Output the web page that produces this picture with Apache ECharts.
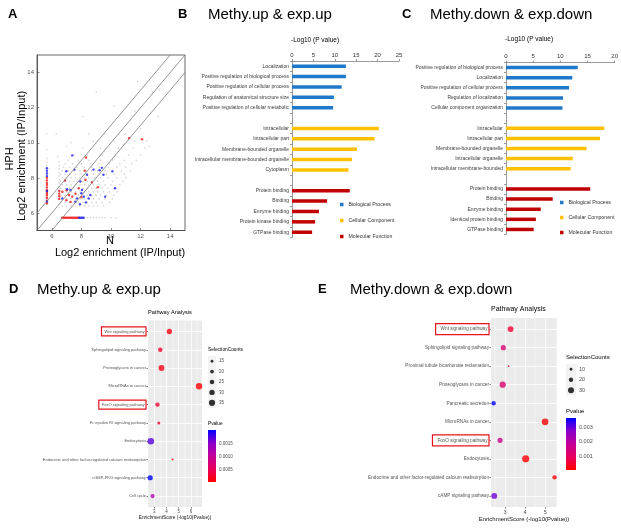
<!DOCTYPE html>
<html><head><meta charset="utf-8">
<script src="https://cdn.jsdelivr.net/npm/echarts@6/dist/echarts.min.js"></script>
<style>html,body{margin:0;padding:0;background:#fff}#c{width:621px;height:532px}</style>
</head><body><div id="c"></div>
<script>
const FONT = '"Liberation Sans", Arial, Helvetica, sans-serif';

// ---------- Panel A data (log2 enrichment scatter) ----------
const aTicks = [6, 8, 10, 12, 14];
const diagUpper = [[5, 6], [14, 15]];
const diagMiddle = [[5, 5], [15, 15]];
const diagLower = [[6, 5], [15, 14]];
const greyPts = [
  [5.67,10.5],[5.67,9.6],[5.67,9.1],[5.67,8.9],[5.67,8.7],[5.67,8.5],[5.67,8.3],[5.67,8.1],[5.67,7.9],[5.67,7.7],[5.67,7.5],[5.67,7.3],[5.67,7.1],[5.67,6.9],[5.67,6.7],[5.67,6.5],
  [6.5,8.9],[6.5,8.7],[6.5,8.5],[6.5,8.3],[6.5,8.1],[6.5,7.9],[6.5,7.7],[6.5,7.5],[6.5,6.5],[6.5,6.3],
  [8.2,5.73],[8.4,5.73],[8.6,5.73],[8.8,5.73],[9.0,5.73],[9.2,5.73],[9.4,5.73],[9.6,5.73],[10.0,5.73],[10.3,5.73],
  [6.7,6.4],[7.0,6.4],[7.3,6.4],[7.6,6.4],[7.9,6.4],[8.2,6.4],[8.5,6.4],[8.8,6.4],[9.1,6.4],[9.5,6.4],
  [6.6,6.6],[6.9,6.6],[7.2,6.6],[7.5,6.6],[7.8,6.6],[8.1,6.6],[8.4,6.6],[8.7,6.6],[9.0,6.6],[9.4,6.6],[9.9,6.6],
  [6.7,6.8],[7.0,6.8],[7.3,6.8],[7.6,6.8],[7.9,6.8],[8.2,6.8],[8.5,6.8],[8.8,6.8],[9.2,6.8],[9.6,6.8],[10.1,6.8],
  [6.6,7.0],[6.9,7.0],[7.2,7.0],[7.5,7.0],[7.8,7.0],[8.1,7.0],[8.4,7.0],[8.7,7.0],[9.0,7.0],[9.3,7.0],[9.7,7.0],[10.2,7.0],
  [6.7,7.2],[7.0,7.2],[7.3,7.2],[7.6,7.2],[7.9,7.2],[8.2,7.2],[8.5,7.2],[8.8,7.2],[9.1,7.2],[9.5,7.2],[9.9,7.2],[10.4,7.2],
  [6.6,7.4],[6.9,7.4],[7.2,7.4],[7.5,7.4],[7.8,7.4],[8.1,7.4],[8.4,7.4],[8.7,7.4],[9.0,7.4],[9.4,7.4],[9.8,7.4],[10.3,7.4],
  [6.7,7.6],[7.0,7.6],[7.3,7.6],[7.6,7.6],[7.9,7.6],[8.2,7.6],[8.5,7.6],[8.8,7.6],[9.2,7.6],[9.6,7.6],[10.0,7.6],[10.6,7.6],
  [6.6,7.8],[6.9,7.8],[7.2,7.8],[7.5,7.8],[7.8,7.8],[8.1,7.8],[8.4,7.8],[8.7,7.8],[9.1,7.8],[9.5,7.8],[10.1,7.8],[10.8,7.8],
  [6.7,8.0],[7.0,8.0],[7.3,8.0],[7.6,8.0],[7.9,8.0],[8.2,8.0],[8.5,8.0],[8.9,8.0],[9.3,8.0],[9.8,8.0],[10.4,8.0],[11.0,8.0],
  [6.6,8.2],[6.9,8.2],[7.2,8.2],[7.6,8.2],[8.0,8.2],[8.4,8.2],[8.8,8.2],[9.2,8.2],[9.7,8.2],[10.2,8.2],[10.9,8.2],
  [6.7,8.4],[7.1,8.4],[7.5,8.4],[7.9,8.4],[8.3,8.4],[8.7,8.4],[9.1,8.4],[9.6,8.4],[10.1,8.4],[10.7,8.4],[11.3,8.4],
  [6.8,8.6],[7.2,8.6],[7.7,8.6],[8.2,8.6],[8.7,8.6],[9.2,8.6],[9.8,8.6],[10.4,8.6],[11.0,8.6],
  [6.9,8.8],[7.4,8.8],[8.0,8.8],[8.6,8.8],[9.2,8.8],[9.9,8.8],[10.6,8.8],[11.4,8.8],
  [7.1,9.0],[7.8,9.0],[8.5,9.0],[9.3,9.0],[10.1,9.0],[10.9,9.0],[11.7,9.0],
  [7.5,9.3],[8.4,9.3],[9.4,9.3],[10.3,9.3],[11.2,9.3],[12.0,9.3],
  [8.1,9.7],[9.3,9.7],[10.5,9.7],[11.5,9.7],[12.3,9.7],
  [8.8,10.1],[10.2,10.1],[11.6,10.1],[12.4,10.1],
  [6.3,10.5],[9.6,10.5],[11.0,10.5],
  [8.1,11.5],[10.2,12.1],[11.6,11.8],[12.8,12.9],[13.3,13.0],[7.3,10.0],[12.0,10.8],[12.6,9.8],[13.2,11.5],[9.0,12.9],[11.8,13.5],[7.0,9.8],[10.8,9.9],[6.4,9.2],[8.5,10.5]
];
const redPts = [
  [5.67,6.55],[5.67,6.7],[5.67,6.85],[5.67,7.0],[5.67,7.1],[5.67,7.2],[5.67,7.3],[5.67,7.45],[5.67,7.6],[5.67,7.7],[5.67,7.85],[5.67,8.0],
  [6.7,5.73],[6.8,5.73],[6.9,5.73],[7.0,5.73],[7.1,5.73],[7.2,5.73],[7.3,5.73],[7.4,5.73],[7.5,5.73],[7.6,5.73],[7.7,5.73],[7.8,5.73],
  [6.5,6.8],[6.5,6.95],[6.5,7.1],[6.5,7.25],
  [6.89,7.85],[7.16,7.02],[7.38,6.93],[6.71,7.21],[6.98,6.73],[7.27,6.63],[7.82,7.41],[8.27,7.89],[8.22,8.41],[8.71,7.74],[9.11,7.47],[11.22,10.26],[8.31,9.16],[12.1,10.2],[7.0,7.3],[7.6,7.1],[8.0,6.9]
];
const bluePts = [
  [5.67,8.55],[5.67,8.4],[5.67,8.25],[5.67,8.1],[5.67,7.25],[5.67,6.65],
  [7.85,5.73],[7.95,5.73],[8.05,5.73],[8.15,5.73],
  [7.38,9.28],[6.98,8.38],[7.53,8.47],[7.04,7.35],[7.93,7.79],[8.04,7.31],[8.16,6.93],[7.71,6.83],[7.6,6.64],[8.38,8.18],[8.82,8.47],[9.38,8.57],[9.49,8.18],[10.09,8.37],[10.27,7.41],[9.6,6.93],[8.49,6.83],[8.6,7.02],[7.27,7.31],[6.71,6.83],[7.9,6.5],[8.3,6.6],[8.0,7.12],[9.23,8.43]
];

// ---------- Panel B data ----------
const bBpTerms = ['Localization','Positive regulation of biological process','Positive regulation of cellular process','Regulation of anatomical structure size','Positive regulation of cellular metabolic'];
const bBpVals = [12.6, 12.6, 11.6, 9.8, 9.6];
const bCcTerms = ['Intracellular','Intracellular part','Membrane-bounded organelle','Intracellular membrane-bounded organelle','Cytoplasm'];
const bCcVals = [20.3, 19.3, 15.2, 14.0, 13.2];
const bMfTerms = ['Protein binding','Binding','Enzyme binding','Protein kinase binding','GTPase binding'];
const bMfVals = [13.5, 8.2, 6.3, 5.4, 4.7];
const bMax = 25;

// ---------- Panel C data ----------
const cBpTerms = ['Positive regulation of biological process','Localization','Positive regulation of cellular process','Regulation of localization','Cellular component organization'];
const cBpVals = [13.2, 12.2, 11.6, 10.5, 10.4];
const cCcTerms = ['Intracellular','Intracellular part','Membrane-bounded organelle','Intracellular organelle','Intracellular membrane-bounded'];
const cCcVals = [18.1, 17.3, 14.8, 12.3, 11.9];
const cMfTerms = ['Protein binding','Binding','Enzyme binding','Identical protein binding','GTPase binding'];
const cMfVals = [15.5, 8.6, 6.4, 5.5, 5.1];
const cMax = 20;
const goGroups = ['Biological Process','Cellular Component','Molecular Function'];

// ---------- Panel D data ----------
const dPathways = ['Wnt signaling pathway','Sphingolipid signaling pathway','Proteoglycans in cancer','MicroRNAs in cancer','FoxO signaling pathway','Fc epsilon RI signaling pathway','Endocytosis','Endocrine and other factor-regulated calcium reabsorption','cGMP-PKG signaling pathway','Cell cycle'];
const dScores = [4.24, 3.5, 3.6, 6.66, 3.27, 3.38, 2.73, 4.5, 2.68, 2.87];
const dCounts = [30, 25, 33, 36, 24, 16, 37, 11, 29, 23];
const dPvals = [0.00012, 0.00022, 0.00015, 0.00002, 0.00032, 0.00028, 0.0017, 0.00004, 0.00202, 0.00122];
const dXTicks = [3, 4, 5, 6];
const dXMinor = [2.5, 3.5, 4.5, 5.5, 6.5];
const dSizeBreaks = [15, 20, 25, 30, 35];
const dPTicks = [0.0005, 0.0010, 0.0015];

// ---------- Panel E data ----------
const ePathways = ['Wnt signaling pathway','Sphingolipid signaling pathway','Proximal tubule bicarbonate reclamation','Proteoglycans in cancer','Pancreatic secretion','MicroRNAs in cancer','FoxO signaling pathway','Endocytosis','Endocrine and other factor-regulated calcium reabsorption','cAMP signaling pathway'];
const eScores = [3.28, 2.92, 3.18, 2.89, 2.44, 4.99, 2.76, 4.03, 5.46, 2.47];
const eCounts = [30, 25, 3, 32, 20, 35, 25, 38, 20, 30];
const ePvals = [0.00065, 0.00135, 0.0003, 0.0013, 0.0036, 0.00015, 0.0017, 0.00013, 0.0002, 0.0029];
const eXTicks = [3, 4, 5];
const eXMinor = [2.5, 3.5, 4.5, 5.5];
const eSizeBreaks = [10, 20, 30];
const ePTicks = [0.001, 0.002, 0.003];

const boxedPathways = ['Wnt signaling pathway', 'FoxO signaling pathway'];

// ---------- styles ----------
const goColors = ['#1f78c8', '#ffc000', '#c00000'];
const pColors = ['#ff0000', '#e8005c', '#c40098', '#8a00cc', '#0000ff'];
const dSize = c => 0.17 * c + 0.3;
const eSize = c => 0.155 * c + 1.3;

function buildGo(bp, cc, mf) { return [...bp, ' ', ...cc, '  ', ...mf]; }
function groupData(vals, g) {
  const out = [];
  for (let k = 0; k < 3; k++) {
    vals[k].forEach(v => out.push(k === g ? v : '-'));
    if (k < 2) out.push('-');
  }
  return out;
}
const bCats = buildGo(bBpTerms, bCcTerms, bMfTerms);
const cCats = buildGo(cBpTerms, cCcTerms, cMfTerms);
const bVals = [bBpVals, bCcVals, bMfVals];
const cVals = [cBpVals, cCcVals, cMfVals];

const dPos = dPathways.map((_, i) => i + 1);
const ePos = ePathways.map((_, i) => i + 1);
const dPmin = Math.min(...dPvals), dPmax = Math.max(...dPvals);
const ePmin = Math.min(...ePvals), ePmax = Math.max(...ePvals);
const cbGradient = {
  type: 'linear', x: 0, y: 0, x2: 0, y2: 1,
  colorStops: pColors.slice().reverse().map((c, i, arr) => ({ offset: i / (arr.length - 1), color: c }))
};

function goXAxis(grid, max) {
  return {
    gridIndex: grid, type: 'value', position: 'top', min: 0, max: max, interval: 5,
    axisLine: { show: true, lineStyle: { color: '#808080', width: 0.8 } },
    axisTick: { show: true, length: 2, lineStyle: { color: '#808080', width: 0.8 } },
    axisLabel: { fontSize: 6, color: '#333', margin: 3, fontFamily: FONT },
    splitLine: { show: false }
  };
}
function goYAxis(grid, cats) {
  return {
    gridIndex: grid, type: 'category', data: cats, inverse: true,
    axisLine: { show: true, lineStyle: { color: '#808080', width: 0.8 } },
    axisTick: { show: true, length: 2, interval: 0, lineStyle: { color: '#808080', width: 0.8 } },
    axisLabel: { fontSize: 5, color: '#3a3a3a', margin: 3, interval: 0, fontFamily: FONT },
    splitLine: { show: false }
  };
}
function pathwayYAxis(grid, names, pos, fs, pad) {
  return {
    gridIndex: grid, type: 'value', min: 0.4, max: names.length + 0.6, inverse: true,
    axisLine: { show: false },
    axisTick: { show: true, customValues: pos, length: 1.5, lineStyle: { color: '#333', width: 0.6 } },
    axisLabel: {
      customValues: pos, fontSize: fs, color: '#555', margin: 2, fontFamily: FONT,
      formatter: v => { const t = names[Math.round(v) - 1]; return boxedPathways.includes(t) ? '{box|' + t + '}' : t; },
      rich: { box: { fontSize: fs, color: '#555', borderColor: '#e8141c', borderWidth: 1.2, padding: pad, fontFamily: FONT } }
    },
    splitLine: { show: true, lineStyle: { color: '#ffffff', width: 0.8 } }
  };
}
function pathwayXAxis(grid, min, max, ticks, fs, nameFs, gap) {
  return {
    gridIndex: grid, type: 'value', min: min, max: max,
    axisLine: { show: false },
    axisTick: { show: true, customValues: ticks, length: 1.5, lineStyle: { color: '#333', width: 0.6 } },
    axisLabel: { customValues: ticks, fontSize: fs, color: '#4d4d4d', margin: 2, fontFamily: FONT },
    splitLine: { show: true, lineStyle: { color: '#ffffff', width: 0.8 } },
    name: 'EnrichmentScore (-log10(Pvalue))', nameLocation: 'middle', nameGap: gap,
    nameTextStyle: { fontSize: nameFs, color: '#111', fontFamily: FONT }
  };
}
function minorXAxis(grid, min, max, ticks) {
  return {
    gridIndex: grid, type: 'value', min: min, max: max, position: 'top',
    axisLine: { show: false }, axisLabel: { show: false },
    axisTick: { show: false, customValues: ticks },
    splitLine: { show: true, lineStyle: { color: '#ffffff', width: 0.4 } }
  };
}
function hiddenCatX(grid) {
  return { gridIndex: grid, type: 'category', data: [''], show: false, boundaryGap: true };
}

function titleItem(text, left, top, size, bold, extra) {
  return Object.assign({ text: text, left: left, top: top, padding: 0, itemGap: 0,
    textStyle: { fontSize: size, fontWeight: bold ? 'bold' : 'normal', color: '#000', fontFamily: FONT } }, extra || {});
}

const option = {
  animation: false,
  backgroundColor: '#ffffff',
  textStyle: { fontFamily: FONT },
  title: [
    titleItem('A', 8, 8, 13, true),
    titleItem('B', 178, 8, 13, true),
    titleItem('Methy.up & exp.up', 208, 7, 15, false),
    titleItem('C', 402, 8, 13, true),
    titleItem('Methy.down & exp.down', 430, 7, 15, false),
    titleItem('-Log10 (P value)', 291, 37, 6.5, false),
    titleItem('-Log10 (P value)', 505, 36, 6.5, false),
    titleItem('D', 9, 283, 13, true),
    titleItem('Methy.up & exp.up', 37, 282, 15, false),
    titleItem('E', 318, 283, 13, true),
    titleItem('Methy.down & exp.down', 350, 282, 15, false),
    titleItem('Pathway Analysis', 148, 309, 5.6, false),
    titleItem('Pathway Analysis', 491, 306, 7, false),
    titleItem('SelectionCounts', 208, 347, 4.8, false),
    titleItem('Pvalue', 208, 421, 4.8, false),
    titleItem('SelectionCounts', 566, 354, 6, false),
    titleItem('Pvalue', 566, 408, 6, false)
  ],
  graphic: [
    { type: 'text', x: 10, y: 159, rotation: Math.PI / 2, style: { text: 'HPH', font: '11px ' + FONT, fill: '#000', textAlign: 'center', textVerticalAlign: 'middle' } },
    { type: 'text', x: 22, y: 156, rotation: Math.PI / 2, style: { text: 'Log2 enrichment (IP/Input)', font: '11px ' + FONT, fill: '#000', textAlign: 'center', textVerticalAlign: 'middle' } },
    { type: 'text', x: 110, y: 241, style: { text: 'N', font: '11px ' + FONT, fill: '#000', textAlign: 'center', textVerticalAlign: 'middle' } },
    { type: 'text', x: 120, y: 253, style: { text: 'Log2 enrichment (IP/Input)', font: '11px ' + FONT, fill: '#000', textAlign: 'center', textVerticalAlign: 'middle' } }
  ],
  legend: [
    { data: goGroups, orient: 'vertical', left: 340, top: 202, itemWidth: 3.5, itemHeight: 3.5, itemGap: 11, icon: 'rect', selectedMode: false, padding: 0,
      textStyle: { fontSize: 5.2, color: '#333', fontFamily: FONT } },
    { data: goGroups, orient: 'vertical', left: 560, top: 200, itemWidth: 3.5, itemHeight: 3.5, itemGap: 10, icon: 'rect', selectedMode: false, padding: 0,
      textStyle: { fontSize: 5.2, color: '#333', fontFamily: FONT } }
  ],
  visualMap: [
    { type: 'continuous', show: false, seriesIndex: 12, dimension: 3, min: dPmin, max: dPmax, inRange: { color: pColors } },
    { type: 'continuous', show: false, seriesIndex: 13, dimension: 3, min: ePmin, max: ePmax, inRange: { color: pColors } }
  ],
  grid: [
    { left: 37, top: 55, width: 148, height: 175.5, show: true, borderColor: '#444', borderWidth: 0.8, backgroundColor: '#fff' },
    { left: 292, top: 61, width: 107, height: 176.4 },
    { left: 506, top: 62.5, width: 110, height: 172 },
    { left: 148, top: 320.5, width: 54, height: 186.5, show: true, backgroundColor: '#ebebeb', borderWidth: 0 },
    { left: 491, top: 318, width: 66, height: 189, show: true, backgroundColor: '#ebebeb', borderWidth: 0 },
    { left: 208, top: 356, width: 8, height: 52, show: true, backgroundColor: '#f2f2f2', borderWidth: 0 },
    { left: 208, top: 430, width: 8, height: 52 },
    { left: 566, top: 364, width: 10, height: 31.5, show: true, backgroundColor: '#f2f2f2', borderWidth: 0 },
    { left: 566, top: 418, width: 10, height: 52 }
  ],
  xAxis: [
    { gridIndex: 0, type: 'value', min: 5, max: 15,
      axisLine: { show: true, lineStyle: { color: '#444', width: 0.8 } },
      axisTick: { show: true, inside: true, length: 2.5, customValues: aTicks, lineStyle: { color: '#444', width: 0.6 } },
      axisLabel: { customValues: aTicks, fontSize: 6, color: '#555', margin: 3, fontFamily: FONT },
      splitLine: { show: false } },
    goXAxis(1, bMax),
    goXAxis(2, cMax),
    pathwayXAxis(3, 2.5, 6.9, dXTicks, 4.5, 4.8, 7),
    minorXAxis(3, 2.5, 6.9, dXMinor),
    pathwayXAxis(4, 2.31, 5.58, eXTicks, 5.5, 6, 8),
    minorXAxis(4, 2.31, 5.58, eXMinor),
    hiddenCatX(5),
    hiddenCatX(6),
    hiddenCatX(7),
    hiddenCatX(8)
  ],
  yAxis: [
    { gridIndex: 0, type: 'value', min: 5, max: 15,
      axisLine: { show: true, lineStyle: { color: '#444', width: 0.8 } },
      axisTick: { show: true, inside: true, length: 2.5, customValues: aTicks, lineStyle: { color: '#444', width: 0.6 } },
      axisLabel: { customValues: aTicks, fontSize: 6, color: '#555', margin: 3, fontFamily: FONT },
      splitLine: { show: false } },
    goYAxis(1, bCats),
    goYAxis(2, cCats),
    pathwayYAxis(3, dPathways, dPos, 4, [2.5, 1.5, 2.5, 3]),
    pathwayYAxis(4, ePathways, ePos, 4.7, [3, 1.5, 3, 5]),
    { gridIndex: 5, type: 'category', data: dSizeBreaks.map(String), inverse: true, position: 'right',
      axisLine: { show: false }, axisTick: { show: false },
      axisLabel: { fontSize: 4.5, color: '#4d4d4d', margin: 3, fontFamily: FONT } },
    { gridIndex: 6, type: 'value', min: dPmin, max: dPmax, position: 'right',
      axisLine: { show: false },
      axisTick: { show: true, inside: true, length: 2, customValues: dPTicks, lineStyle: { color: '#fff', width: 0.6 } },
      axisLabel: { customValues: dPTicks, fontSize: 4.5, color: '#4d4d4d', margin: 3, fontFamily: FONT, formatter: v => v.toFixed(4) },
      splitLine: { show: false } },
    { gridIndex: 7, type: 'category', data: eSizeBreaks.map(String), inverse: true, position: 'right',
      axisLine: { show: false }, axisTick: { show: false },
      axisLabel: { fontSize: 5.5, color: '#4d4d4d', margin: 3, fontFamily: FONT } },
    { gridIndex: 8, type: 'value', min: ePmin, max: ePmax, position: 'right',
      axisLine: { show: false },
      axisTick: { show: true, inside: true, length: 2.5, customValues: ePTicks, lineStyle: { color: '#fff', width: 0.6 } },
      axisLabel: { customValues: ePTicks, fontSize: 5.5, color: '#4d4d4d', margin: 3, fontFamily: FONT, formatter: v => v.toFixed(3) },
      splitLine: { show: false } }
  ],
  series: [
    { type: 'scatter', xAxisIndex: 0, yAxisIndex: 0, data: greyPts, symbolSize: 1.6, itemStyle: { color: '#c4c4c4' }, silent: true },
    { type: 'scatter', xAxisIndex: 0, yAxisIndex: 0, data: redPts, symbolSize: 2.4, itemStyle: { color: '#ee1111' }, silent: true },
    { type: 'scatter', xAxisIndex: 0, yAxisIndex: 0, data: bluePts, symbolSize: 2.4, itemStyle: { color: '#1a1aee' }, silent: true },
    { type: 'line', xAxisIndex: 0, yAxisIndex: 0, data: diagUpper, symbol: 'none', lineStyle: { color: '#7a7a7a', width: 0.8 }, silent: true },
    { type: 'line', xAxisIndex: 0, yAxisIndex: 0, data: diagMiddle, symbol: 'none', lineStyle: { color: '#7a7a7a', width: 0.8 }, silent: true },
    { type: 'line', xAxisIndex: 0, yAxisIndex: 0, data: diagLower, symbol: 'none', lineStyle: { color: '#7a7a7a', width: 0.8 }, silent: true },
    ...goGroups.map((g, k) => ({ name: g, type: 'bar', xAxisIndex: 1, yAxisIndex: 1, data: groupData(bVals, k), barWidth: 3.5, barGap: '-100%', itemStyle: { color: goColors[k] }, silent: true })),
    ...goGroups.map((g, k) => ({ name: g, type: 'bar', xAxisIndex: 2, yAxisIndex: 2, data: groupData(cVals, k), barWidth: 3.5, barGap: '-100%', itemStyle: { color: goColors[k] }, silent: true })),
    { type: 'scatter', xAxisIndex: 3, yAxisIndex: 3, silent: true,
      data: dPathways.map((t, i) => [dScores[i], dPos[i], dCounts[i], dPvals[i]]),
      symbolSize: v => dSize(v[2]) },
    { type: 'scatter', xAxisIndex: 5, yAxisIndex: 4, silent: true,
      data: ePathways.map((t, i) => [eScores[i], ePos[i], eCounts[i], ePvals[i]]),
      symbolSize: v => eSize(v[2]) },
    { type: 'scatter', xAxisIndex: 7, yAxisIndex: 5, silent: true, itemStyle: { color: '#000' },
      data: dSizeBreaks.map((b, i) => ({ value: [0, i], symbolSize: dSize(b) })) },
    { type: 'bar', xAxisIndex: 8, yAxisIndex: 6, stack: 'dcb', data: [dPmin], barWidth: '100%', itemStyle: { color: 'rgba(0,0,0,0)' }, silent: true },
    { type: 'bar', xAxisIndex: 8, yAxisIndex: 6, stack: 'dcb', data: [dPmax - dPmin], barWidth: '100%', itemStyle: { color: cbGradient }, silent: true },
    { type: 'scatter', xAxisIndex: 9, yAxisIndex: 7, silent: true, itemStyle: { color: '#000' },
      data: eSizeBreaks.map((b, i) => ({ value: [0, i], symbolSize: eSize(b) })) },
    { type: 'bar', xAxisIndex: 10, yAxisIndex: 8, stack: 'ecb', data: [ePmin], barWidth: '100%', itemStyle: { color: 'rgba(0,0,0,0)' }, silent: true },
    { type: 'bar', xAxisIndex: 10, yAxisIndex: 8, stack: 'ecb', data: [ePmax - ePmin], barWidth: '100%', itemStyle: { color: cbGradient }, silent: true }
  ]
};

const chart = echarts.init(document.getElementById('c'), null, { renderer: 'canvas' });
chart.setOption(option);
</script>
</body></html>
